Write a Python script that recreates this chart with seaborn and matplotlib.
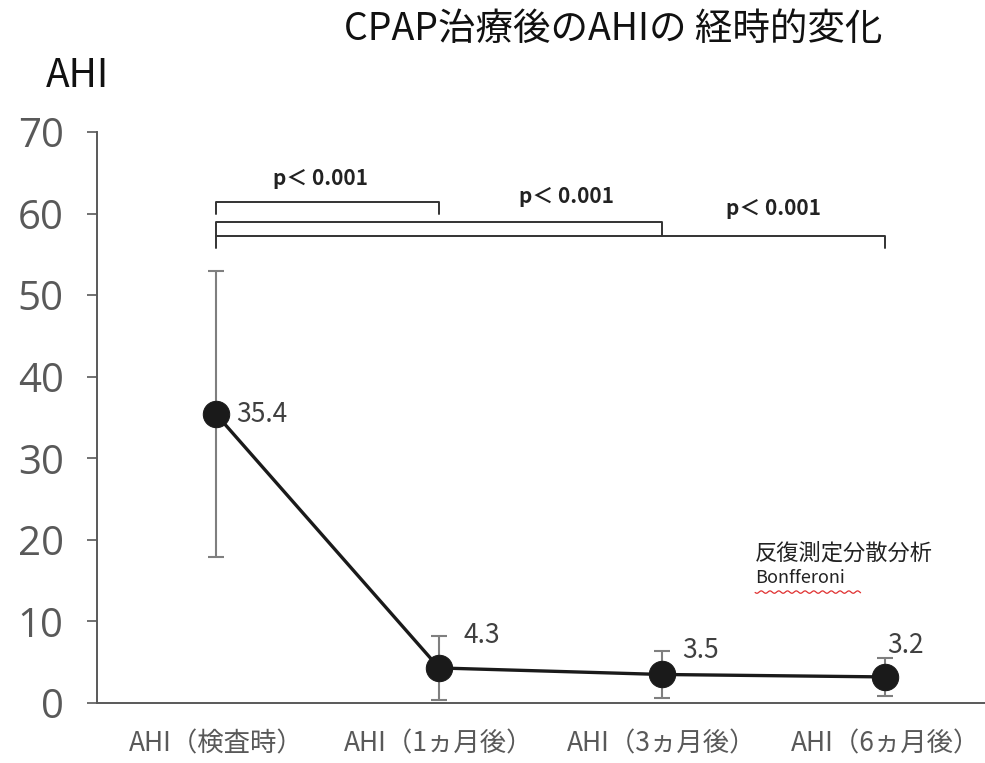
import numpy as np
import pandas as pd
import matplotlib
matplotlib.use("Agg")
import matplotlib.pyplot as plt
import seaborn as sns

# data
categories = ["AHI（検査時）", "AHI（1ヵ月後）", "AHI（3ヵ月後）", "AHI（6ヵ月後）"]
ahi_mean = [35.4, 4.3, 3.5, 3.2]
ahi_sd = [17.5, 3.9, 2.9, 2.3]
value_labels = ["35.4", "4.3", "3.5", "3.2"]

# significance brackets: (start index, end index) and bracket height
bracket_pairs = [(0, 1), (0, 2), (0, 3)]
bracket_heights = [61.4, 59.0, 57.2]
p_labels = ["p＜ 0.001", "p＜ 0.001", "p＜ 0.001"]

sns.set_theme(style="white")
plt.rcParams['font.family'] = ['Noto Sans CJK JP', 'DejaVu Sans']

df = pd.DataFrame({"time": categories, "AHI": ahi_mean})

fig = plt.figure(figsize=(9.85, 7.63), dpi=100)
ax = fig.add_axes([0.0985, 0.0786, 0.9056, 0.7484])

# error bars first so the markers sit on top
ax.errorbar(range(len(categories)), ahi_mean, yerr=ahi_sd, fmt='none',
            ecolor='#7f7f7f', elinewidth=1.5, capsize=6, capthick=1.5, zorder=2)

sns.lineplot(data=df, x="time", y="AHI", sort=False, color='#1a1a1a',
             linewidth=2.4, marker='o', markersize=19, markeredgecolor='#1a1a1a',
             ax=ax, zorder=3)

# value labels next to the markers
offsets = [(0.09, 0.0), (0.11, 4.0), (0.09, 3.0), (0.01, 3.9)]
for i, (lbl, (dx, dy)) in enumerate(zip(value_labels, offsets)):
    ax.text(i + dx, ahi_mean[i] + dy, lbl, fontsize=19, color='#404040',
            ha='left', va='center')

# brackets with p values
drop = [1.4, 1.8, 1.4]
label_x = [0.47, 1.57, 2.5]
label_y = [63.0, 60.8, 59.3]
for (a, b), h, d, lx, ly, pl in zip(bracket_pairs, bracket_heights, drop,
                                    label_x, label_y, p_labels):
    ax.plot([a, a, b, b], [h - d, h, h, h - d], color='#333333', lw=1.4,
            zorder=1)
    ax.text(lx, ly, pl, fontsize=15, color='#222222', ha='center', va='bottom',
            fontweight='bold')

ax.set_xlim(-0.534, 3.466)
ax.set_ylim(0, 70)
ax.set_yticks(range(0, 71, 10))
ax.tick_params(axis='y', labelcolor='#595959', length=7,
               width=1.2, color='#595959', direction='out', left=True, pad=17)
for t in ax.get_yticklabels():
    t.set_fontfamily(['Open Sans', 'DejaVu Sans'])
    t.set_fontsize(29)
ax.tick_params(axis='x', labelsize=19, labelcolor='#595959', length=0, pad=20)
ax.set_xlabel("")
ax.set_ylabel("")

for s in ['top', 'right']:
    ax.spines[s].set_visible(False)
for s in ['left', 'bottom']:
    ax.spines[s].set_color('#595959')
    ax.spines[s].set_linewidth(1.4)

fig.text(0.623, 0.962, "CPAP治療後のAHIの 経時的変化", fontsize=27,
         ha='center', va='center', color='#111111')
fig.text(0.079, 0.900, "AHI", fontsize=28, ha='center', va='center',
         color='#111111')

# side note
ax.text(2.417, 18.4, "反復測定分散分析", fontsize=16, color='#222222',
        ha='left', va='center')
ax.text(2.417, 15.3, "Bonfferoni", fontsize=13, color='#222222',
        ha='left', va='center')
wx = np.linspace(2.417, 2.89, 100)
ax.plot(wx, 13.6 + 0.15 * np.sin(wx * 160), color='#e03030', lw=0.9)

fig.savefig("out.png", dpi=100)
